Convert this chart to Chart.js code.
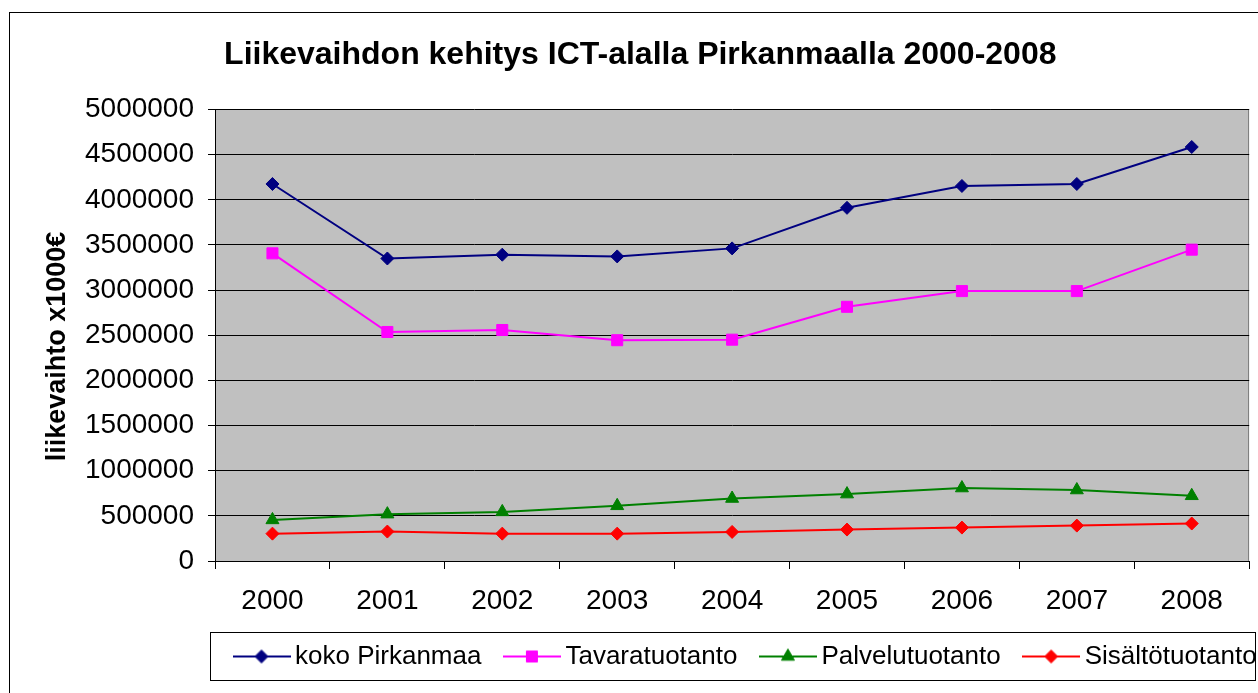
<!DOCTYPE html>
<html><head><meta charset="utf-8">
<script src="https://cdn.jsdelivr.net/npm/chart.js@4"></script>
<style>html,body{margin:0;padding:0;background:#fff;} canvas{display:block;}</style>
</head><body>
<canvas id="c" width="1258" height="693"></canvas>
<script>
const categories = ['2000','2001','2002','2003','2004','2005','2006','2007','2008'];
const seriesNames = ['koko Pirkanmaa','Tavaratuotanto','Palvelutuotanto','Sisältötuotanto'];
const kokoPirkanmaa = [4175000, 3350000, 3392000, 3373000, 3462000, 3911000, 4153000, 4175000, 4585000];
const tavaratuotanto = [3407000, 2536000, 2558000, 2445000, 2451000, 2815000, 2989000, 2989000, 3448000];
const palvelutuotanto = [455000, 519000, 544000, 611000, 692000, 741000, 808000, 786000, 722000];
const sisaltotuotanto = [303000, 326000, 303000, 303000, 322000, 348000, 370000, 392000, 415000];
const yTicks = [0, 500000, 1000000, 1500000, 2000000, 2500000, 3000000, 3500000, 4000000, 4500000, 5000000];
const chartTitle = 'Liikevaihdon kehitys ICT-alalla Pirkanmaalla 2000-2008';
const yAxisTitle = 'liikevaihto x1000€';

const FONT = "'Liberation Sans', Arial, sans-serif";
const colors = ['#000080', '#FF00FF', '#008000', '#FF0000'];
const styles = ['rectRot', 'rect', 'triangle', 'rectRot'];
const radii = [6.5, 7.8, 7.5, 6.5];

function marker(g, style, r, x, y) {
  g.beginPath();
  if (style === 'rectRot') {
    g.moveTo(x - r, y); g.lineTo(x, y - r); g.lineTo(x + r, y); g.lineTo(x, y + r);
  } else if (style === 'rect') {
    const s = Math.SQRT1_2 * r;
    g.rect(x - s, y - s, 2 * s, 2 * s);
  } else {
    let a = 0;
    g.moveTo(x + Math.sin(a) * r, y - Math.cos(a) * r);
    a += 2 * Math.PI / 3; g.lineTo(x + Math.sin(a) * r, y - Math.cos(a) * r);
    a += 2 * Math.PI / 3; g.lineTo(x + Math.sin(a) * r, y - Math.cos(a) * r);
  }
  g.closePath();
  g.fill();
  g.stroke();
}
function legendIcon(i) {
  const c = document.createElement('canvas');
  c.width = 58; c.height = 22;
  const g = c.getContext('2d');
  g.strokeStyle = colors[i]; g.fillStyle = colors[i];
  g.lineWidth = 2;
  g.beginPath(); g.moveTo(0, 11); g.lineTo(58, 11); g.stroke();
  g.lineWidth = 1;
  marker(g, styles[i], radii[i], 29, 11);
  return c;
}
const icons = [0,1,2,3].map(legendIcon);

const seriesData = [kokoPirkanmaa, tavaratuotanto, palvelutuotanto, sisaltotuotanto];
const datasets = seriesData.map((d, i) => ({
  label: seriesNames[i],
  data: d,
  borderColor: colors[i],
  backgroundColor: colors[i],
  borderWidth: 2,
  tension: 0,
  pointStyle: styles[i],
  pointRadius: radii[i],
  pointHoverRadius: radii[i],
  pointBorderWidth: 1,
  pointBackgroundColor: colors[i],
  pointBorderColor: colors[i]
}));

const decor = {
  id: 'decor',
  beforeDraw(chart) {
    const {ctx, chartArea: a} = chart;
    ctx.save();
    ctx.fillStyle = '#fff';
    ctx.fillRect(0, 0, chart.width, chart.height);
    ctx.fillStyle = '#C0C0C0';
    ctx.fillRect(a.left, a.top, a.right - a.left, a.bottom - a.top);
    ctx.strokeStyle = '#808080';
    ctx.lineWidth = 1;
    ctx.beginPath();
    ctx.moveTo(Math.round(a.right) - 0.5, a.top);
    ctx.lineTo(Math.round(a.right) - 0.5, a.bottom);
    ctx.stroke();
    ctx.restore();
  },
  afterLayout(chart) {
    const lg = chart.legend;
    if (!lg || !lg.lineWidths) return;
    const p = lg.options.labels.padding;
    const cur = (lg.left + p + lg.right - lg.lineWidths[0]) / 2;
    const dx = 241 - cur;
    lg.left += dx; lg.right += dx;
  },
  afterDraw(chart) {
    const ctx = chart.ctx;
    ctx.save();
    ctx.strokeStyle = '#000';
    ctx.lineWidth = 1;
    ctx.strokeRect(9.5, 12.5, 1300, 700);
    ctx.strokeRect(210.5, 632.5, 1045, 48);
    ctx.restore();
  }
};

new Chart(document.getElementById('c'), {
  type: 'line',
  data: { labels: categories, datasets },
  plugins: [decor],
  options: {
    responsive: false,
    animation: false,
    devicePixelRatio: 1,
    layout: { padding: { left: 30, right: 7.4, top: 0, bottom: 13.5 } },
    plugins: {
      title: {
        display: true,
        text: chartTitle,
        color: '#000',
        font: { family: FONT, size: 32, weight: 'bold' },
        padding: { top: 35.6, bottom: 35.5 }
      },
      legend: {
        position: 'bottom',
        align: 'center',
        labels: {
          color: '#000',
          font: { family: FONT, size: 26 },
          usePointStyle: true,
          pointStyleWidth: 41,
          padding: 30,
          generateLabels(chart) {
            const items = Chart.defaults.plugins.legend.labels.generateLabels(chart);
            items.forEach((it, i) => { it.pointStyle = icons[i]; });
            return items;
          }
        }
      },
      tooltip: { enabled: false }
    },
    scales: {
      x: {
        offset: true,
        afterFit(s) { s.height = 52.5; },
        grid: { drawOnChartArea: false, drawTicks: true, tickLength: 8, color: '#000', offset: true },
        border: { color: '#000', width: 1 },
        ticks: { color: '#000', font: { family: FONT, size: 28 }, padding: 15.2, maxRotation: 0, autoSkip: false }
      },
      y: {
        min: yTicks[0],
        max: yTicks[yTicks.length - 1],
        afterFit(s) { s.width = 185; },
        afterBuildTicks(s) { s.ticks = yTicks.map(v => ({ value: v })); },
        grid: { color: '#000', lineWidth: 1, tickLength: 7, drawTicks: true },
        border: { color: '#000', width: 1 },
        ticks: { color: '#000', font: { family: FONT, size: 28 }, padding: 14, callback: v => String(v) },
        title: {
          display: true,
          text: yAxisTitle + '   ',
          color: '#000',
          font: { family: FONT, size: 27, weight: 'bold' },
          padding: { top: 11.5, bottom: 0 }
        }
      }
    }
  }
});
</script>
</body></html>
